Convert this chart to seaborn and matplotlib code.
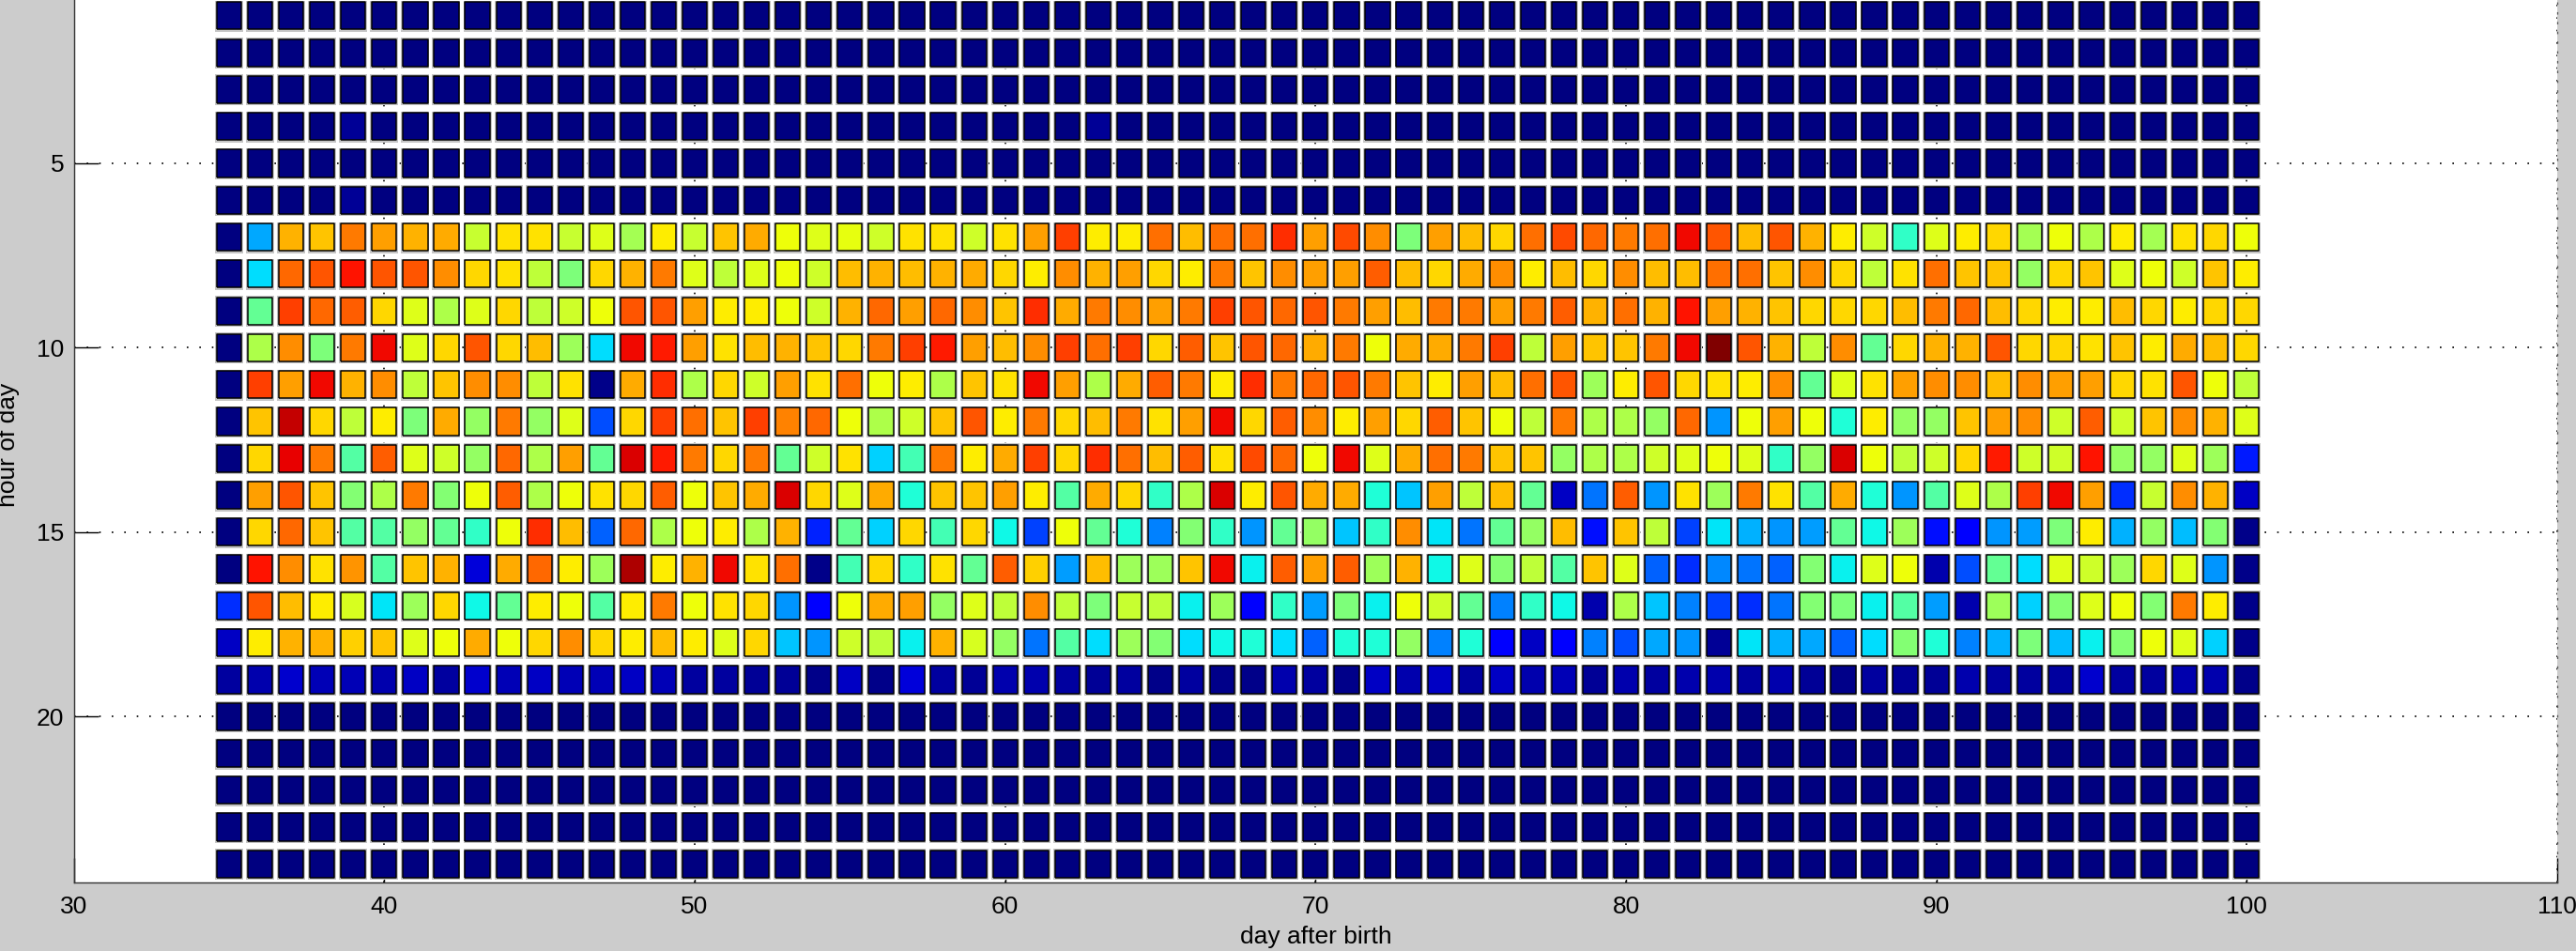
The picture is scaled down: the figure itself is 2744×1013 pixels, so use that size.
import numpy as np
import pandas as pd
import matplotlib
matplotlib.use("Agg")
import matplotlib.pyplot as plt
import seaborn as sns

# ---------------- data (colour index 0..100, jet scale) ----------------
days = list(range(35, 101))          # day after birth
hours = list(range(1, 25))           # hour of day

h01 = [0] * 66
h02 = [0] * 66
h03 = [0] * 66
h04 = [0,0,0,0,2,0,0,0,0,0,0, 0,0,0,0,0,0,0,0,0,0,0, 0,0,0,0,0,0,2,0,0,0,0,
       0,0,0,0,0,0,0,0,0,0,0, 0,0,0,0,0,0,0,0,0,0,0, 0,0,0,0,0,0,0,0,0,0,0]
h05 = [0] * 66
h06 = [0,0,0,0,2,0,0,0,0,0,0, 0,0,0,0,0,0,0,0,0,0,0, 0,0,0,0,0,0,0,0,0,0,0,
       0,0,0,0,0,0,0,0,0,0,0, 0,0,0,0,0,0,0,0,0,0,0, 0,0,0,0,0,0,0,0,0,0,0]
h07 = [0,29,72,70,78,74,72,73,59,67,67, 59,62,55,66,59,70,73,64,62,63,60,
       67,67,60,67,74,84,66,66,79,71,79, 79,86,74,83,76,50,74,71,68,79,83,
       80,78,79,90,82,71,82,72,66,60,41, 62,66,68,55,64,56,66,55,67,68,64]
h08 = [0,34,80,82,89,82,82,76,68,67,58, 50,68,72,78,62,58,62,64,60,71,72,
       71,72,73,68,66,76,72,74,68,66,78, 70,76,74,74,81,71,68,73,76,66,71,
       68,76,71,71,79,79,70,76,68,58,67, 79,70,70,53,68,70,62,64,60,70,66]
h09 = [0,47,84,80,81,68,62,56,62,68,58, 60,64,82,82,74,66,66,64,60,72,80,
       74,80,76,70,86,73,78,76,74,78,84, 82,80,82,78,74,71,78,78,74,78,81,
       72,79,72,89,74,72,70,68,68,68,71, 78,80,71,68,66,66,71,68,66,68,68]
h10 = [0,56,76,50,78,90,62,68,82,68,71, 54,34,90,88,74,67,71,72,70,68,78,
       84,88,74,71,76,84,79,84,68,81,70, 82,80,73,78,64,73,73,78,84,58,74,
       70,70,78,90,100,82,72,58,76,47,68, 72,72,82,68,68,67,70,66,73,71,68]
h11 = [0,84,74,90,72,76,58,70,76,76,58, 67,1,73,86,56,68,60,74,67,79,64,
       66,56,70,67,90,74,56,73,81,78,66, 86,78,80,82,78,70,66,74,71,79,82,
       54,66,82,68,67,66,76,47,62,67,74, 76,76,71,76,74,74,68,67,82,64,58]
h12 = [0,70,94,68,58,66,50,73,53,78,53, 62,20,68,84,79,70,84,77,80,64,56,
       60,70,82,66,78,68,71,78,67,74,90, 68,81,76,66,74,68,81,70,64,58,78,
       56,56,53,80,27,64,74,64,39,66,53, 53,70,74,76,60,81,60,70,76,72,62]
h13 = [0,68,91,78,45,81,62,60,53,80,56, 74,47,92,88,78,68,78,47,60,67,33,
       43,78,66,73,84,68,86,79,71,81,67, 83,80,64,90,62,73,79,78,70,70,53,
       56,56,60,62,64,62,41,53,92,64,58, 60,68,88,60,60,89,53,53,62,54,15]
h14 = [0,74,82,70,51,56,78,51,64,81,56, 64,67,68,81,64,70,73,92,68,62,73,
       39,70,70,74,66,45,73,68,41,56,92, 66,82,73,73,39,32,74,58,71,47,6,
       24,81,27,67,54,78,67,45,73,39,27, 45,62,56,84,90,74,17,59,76,72,6]
h15 = [0,68,80,70,45,45,53,47,41,64,86, 71,22,80,56,64,66,56,72,16,47,33,
       68,43,68,37,19,64,47,39,25,51,41, 27,47,53,32,41,76,35,24,47,53,71,
       14,70,58,19,35,30,27,28,47,37,54, 14,12,27,28,50,66,30,53,31,51,1]
h16 = [0,89,76,67,75,45,70,72,8,73,80, 66,54,96,66,72,90,67,79,1,43,68,
       41,67,47,81,69,28,71,54,54,70,90, 36,81,74,81,54,72,37,62,51,58,45,
       70,62,22,17,26,24,22,51,36,62,64, 4,20,47,34,62,60,54,68,62,27,1]
h17 = [17,82,71,66,61,35,54,68,37,47,66, 64,45,66,78,64,67,68,27,12,64,73,
       74,53,62,58,76,58,50,59,58,36,54, 12,41,28,50,36,64,60,47,25,41,37,
       4,56,32,25,19,17,24,51,50,36,45, 28,4,54,33,51,62,64,51,78,66,1]
h18 = [6,66,72,72,69,70,62,64,73,64,68, 76,68,66,71,66,62,68,32,27,60,58,
       36,72,61,53,24,45,34,54,51,34,37, 39,34,22,39,39,53,25,39,12,6,12,
       25,20,29,27,2,35,30,29,22,34,51, 39,25,30,50,31,36,51,64,62,33,1]
h19 = [3,4,7,5,5,4,6,3,7,5,6, 5,5,6,5,3,3,2,2,1,6,1,
       8,3,2,4,4,3,2,3,1,3,1, 1,4,3,1,6,4,6,3,6,4,5,
       2,4,3,4,4,3,4,2,1,3,2, 2,4,3,3,3,7,3,3,4,4,1]
h20 = [0] * 66
h21 = [0] * 66
h22 = [0] * 66
h23 = [0] * 66
h24 = [0] * 66

rows = [h01, h02, h03, h04, h05, h06, h07, h08, h09, h10, h11, h12,
        h13, h14, h15, h16, h17, h18, h19, h20, h21, h22, h23, h24]

x_ticks = [30, 40, 50, 60, 70, 80, 90, 100, 110]
y_ticks = [5, 10, 15, 20]

records = []
for hr, vals in zip(hours, rows):
    for d, v in zip(days, vals):
        records.append((d, hr, v))
df = pd.DataFrame(records, columns=["day", "hour", "value"])

# ---------------- figure ----------------
plt.rcParams['font.family'] = ['Liberation Sans', 'DejaVu Sans']

W, H, DPI = 2744, 1013, 100
fig = plt.figure(figsize=(W / DPI, H / DPI), dpi=DPI, facecolor='#cccccc')
ax = fig.add_axes([78.7 / W, (H - 940) / H, (2724 - 78.7) / W, 942.8 / H])
ax.set_facecolor('white')

main_verts = [(-0.449, -0.5), (0.449, -0.5), (0.449, 0.5), (-0.449, 0.5), (-0.449, -0.5)]
halo_verts = [(-0.454, -0.5), (0.454, -0.5), (0.454, 0.5), (-0.454, 0.5), (-0.454, -0.5)]
px = 72.0 / DPI
main_h = (30.7 - 1.5) * px
halo_h = 33.0 * px

jet = matplotlib.colormaps['jet']

sns.scatterplot(data=df, x="day", y="hour", marker=halo_verts, s=halo_h ** 2,
                color='#c6c6c6', linewidth=0, legend=False, ax=ax, zorder=2)
sns.scatterplot(data=df, x="day", y="hour", hue="value", palette=jet,
                hue_norm=(0, 100), marker=main_verts, s=main_h ** 2,
                edgecolor='black', linewidth=1.5 * px, legend=False, ax=ax,
                zorder=3)

ax.set_xlim(30, 110)
ax.set_ylim(24.5, 0.5)
ax.set_xticks(x_ticks)
ax.set_yticks(y_ticks)

dots = (0, (1, 7))
ax.grid(True, color='black', linestyle=dots, linewidth=1.2)
ax.set_axisbelow(True)

for side in ['left', 'bottom']:
    ax.spines[side].set_color('#333333')
    ax.spines[side].set_linewidth(1.4 * px)
for side in ['top', 'right']:
    ax.spines[side].set_linestyle(dots)
    ax.spines[side].set_linewidth(1.3 * px)
    ax.spines[side].set_color('#555555')

ax.tick_params(axis='both', direction='in', length=26 * px, width=1.4 * px,
               labelsize=19, colors='black')
ax.tick_params(axis='x', pad=10)
ax.tick_params(axis='y', pad=7.5)

ax.set_xlabel('day after birth', fontsize=19)
ax.set_ylabel('hour of day', fontsize=19)
ax.xaxis.set_label_coords(0.5, -0.049)
ax.yaxis.set_label_coords(-0.0218, 0.494)

fig.savefig('out.png', dpi=DPI, facecolor=fig.get_facecolor())
